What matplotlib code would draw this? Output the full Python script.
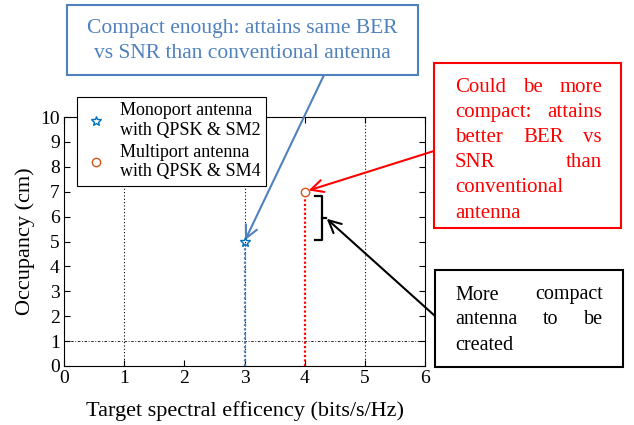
import matplotlib.pyplot as plt
from matplotlib.patches import Rectangle

# figure size in pixels
W, H = 634, 425

# data
efficiency = [3, 4]
occupancy = [5, 7]
series_labels = ['Monoport antenna\nwith QPSK & SM2', 'Multiport antenna\nwith QPSK & SM4']
series_colors = ['#0072BD', '#D95319']
drop_colors = ['#4F81BD', '#FF0000']
grid_x = [1, 3, 5]
ref_y = 1
bracket_x = [4.17, 4.29, 4.29, 4.17]
bracket_y = [6.83, 6.83, 5.06, 5.06]
bracket_tip = (4.35, 5.95)

blue_lines = ['Compact enough: attains same BER', 'vs SNR than conventional antenna']
red_lines = ['Could be more', 'compact: attains', 'better BER vs', 'SNR than',
             'conventional', 'antenna']
black_lines = ['More compact', 'antenna to be', 'created']

plt.rcParams['font.family'] = ['Liberation Serif', 'DejaVu Serif']

fig = plt.figure(figsize=(W / 100, H / 100), dpi=100)
ax = fig.add_axes([64 / W, 1 - 366 / H, (425 - 64) / W, (366 - 117) / H])

# grid-like guides
for gx in grid_x:
    ax.axvline(gx, color='black', ls=(0, (1, 2)), lw=0.8, zorder=1)
ax.axhline(ref_y, color='black', ls=(0, (3, 2, 1, 2)), lw=0.6, zorder=1)

# drop lines from points
for x, y, c in zip(efficiency, occupancy, drop_colors):
    ax.plot([x, x], [0, y], color=c, ls=(0, (1, 1)), lw=1.6, zorder=2)

ax.plot(efficiency[0], occupancy[0], ls='none', marker='*', ms=7, mfc='none',
        mec=series_colors[0], mew=1.0, label=series_labels[0], zorder=4)
ax.plot(efficiency[1], occupancy[1], ls='none', marker='o', ms=6, mfc='white',
        mec=series_colors[1], mew=1.0, label=series_labels[1], zorder=4)

ax.set_xlim(0, 6)
ax.set_ylim(0, 10)
ax.set_xticks(range(0, 7))
ax.set_yticks(range(0, 11))
ax.tick_params(direction='in', top=True, right=True, labelsize=14, length=4,
               pad=3)
ax.set_xlabel('Target spectral efficency (bits/s/Hz)', fontsize=16, labelpad=10)
ax.set_ylabel('Occupancy (cm)', fontsize=16, labelpad=4)

leg = ax.legend(loc='upper left', bbox_to_anchor=(77 / W, 1 - 97 / H),
                bbox_transform=fig.transFigure, fontsize=13, fancybox=False,
                edgecolor='black', framealpha=1, handlelength=1.5,
                handletextpad=0.6, labelspacing=0.25, borderpad=0.3,
                borderaxespad=0)
leg.get_frame().set_linewidth(0.8)
leg.set_zorder(5)

# bracket
ax.plot(bracket_x, bracket_y, color='black', lw=1.6, clip_on=False)
ax.plot([bracket_x[1], bracket_tip[0]], [bracket_tip[1]] * 2, color='black',
        lw=1.6, clip_on=False)


def box(x0, y0, x1, y1, color):
    fig.add_artist(Rectangle((x0 / W, 1 - y1 / H), (x1 - x0) / W, (y1 - y0) / H,
                             transform=fig.transFigure, fill=True, fc='white',
                             ec=color, lw=1.5))


renderer = fig.canvas.get_renderer()


def justified(lines, x0, x1, ytop, step, color, size, last_left=0):
    # justify all but the trailing `last_left` lines
    for i, line in enumerate(lines):
        y = 1 - (ytop + i * step) / H
        words = line.split()
        if len(words) == 1 or i >= len(lines) - last_left:
            fig.text(x0 / W, y, line, color=color, fontsize=size, va='center')
            continue
        texts = [fig.text(x0 / W, y, w, color=color, fontsize=size, va='center')
                 for w in words]
        widths = [t.get_window_extent(renderer).width for t in texts]
        gap = (x1 - x0 - sum(widths)) / (len(words) - 1)
        pos = x0
        for t, w in zip(texts, widths):
            t.set_x(pos / W)
            pos += w + gap


# blue callout
box(67, 5, 418, 75, '#4F81BD')
fig.text(242 / W, 1 - 28 / H, blue_lines[0], color='#4F81BD', fontsize=15.5,
         ha='center', va='center')
fig.text(242 / W, 1 - 53 / H, blue_lines[1], color='#4F81BD', fontsize=15.5,
         ha='center', va='center')

# red callout
box(434, 63, 621, 228, '#FF0000')
justified(red_lines, 455, 602, 87, 25.2, '#FF0000', 15, last_left=2)

# black callout
box(435, 270, 623, 367, 'black')
justified(black_lines, 455, 603, 295, 25, 'black', 14.5, last_left=1)

# arrows
arrow = dict(arrowstyle='->', lw=1.5, mutation_scale=22, shrinkA=0, shrinkB=1)
ax.annotate('', xy=(efficiency[0], occupancy[0]), xycoords='data',
            xytext=(324, H - 75), textcoords='figure pixels',
            arrowprops=dict(arrow, color='#4F81BD'))
ax.annotate('', xy=(efficiency[1], occupancy[1]), xycoords='data',
            xytext=(434, H - 151), textcoords='figure pixels',
            arrowprops=dict(arrow, color='#FF0000', shrinkB=3))
ax.annotate('', xy=bracket_tip, xycoords='data',
            xytext=(435, H - 316), textcoords='figure pixels',
            arrowprops=dict(arrow, color='black'))

fig.savefig('out.png', dpi=100)
